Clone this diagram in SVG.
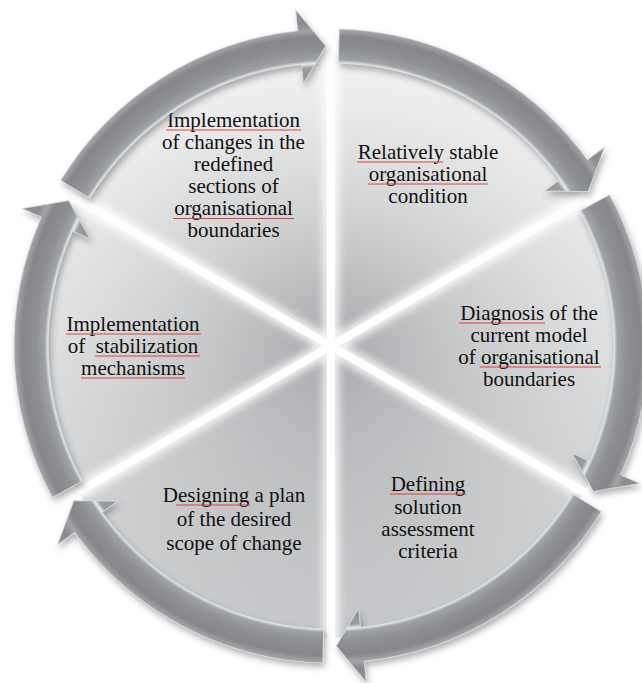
<svg xmlns="http://www.w3.org/2000/svg" width="642" height="683" viewBox="0 0 642 683">
<defs>
<style>
.lbl{font-family:"Liberation Serif","Times New Roman",serif;font-size:21px;fill:#111111;text-anchor:middle}
.seg{fill:url(#segFill)}
.shade{fill:url(#centerShade)}
.arrow{fill:url(#ringGrad);stroke:#d8e0e6;stroke-width:0.9;stroke-opacity:0.8}
.gap{stroke:#ffffff;stroke-width:8}
.glow{stroke:#ffffff;stroke-width:16}
.spell{stroke:#d9463f;stroke-width:1;fill:none}
</style>
<linearGradient id="segFill" gradientUnits="userSpaceOnUse" x1="0" y1="50" x2="0" y2="645">
<stop offset="0" stop-color="#f1f1f1"/>
<stop offset="0.45" stop-color="#dadbdc"/>
<stop offset="1" stop-color="#b6b8bb"/>
</linearGradient>
<radialGradient id="centerShade" gradientUnits="userSpaceOnUse" cx="331" cy="346" r="292">
<stop offset="0" stop-color="#8a8c90" stop-opacity="0.65"/>
<stop offset="0.5" stop-color="#a4a6a9" stop-opacity="0.25"/>
<stop offset="1" stop-color="#ffffff" stop-opacity="0.2"/>
</radialGradient>
<radialGradient id="ringGrad" gradientUnits="userSpaceOnUse" cx="331" cy="346" r="340">
<stop offset="0" stop-color="#8f9194"/>
<stop offset="0.776" stop-color="#8f9194"/>
<stop offset="0.82" stop-color="#9a9c9f"/>
<stop offset="0.832" stop-color="#e6ebef"/>
<stop offset="0.842" stop-color="#a0a2a5"/>
<stop offset="0.87" stop-color="#8e9093"/>
<stop offset="0.91" stop-color="#85878a"/>
<stop offset="0.93" stop-color="#a2a4a7"/>
<stop offset="0.95" stop-color="#8a8c8f"/>
<stop offset="1" stop-color="#8e9093"/>
</radialGradient>
<filter id="shadow" x="-10%" y="-10%" width="120%" height="120%">
<feDropShadow dx="2" dy="4" stdDeviation="3" flood-color="#555555" flood-opacity="0.45"/>
</filter>
<filter id="blur" x="-20%" y="-20%" width="140%" height="140%">
<feGaussianBlur stdDeviation="4"/>
</filter>
<path id="arrowShape" d="M609.6,194.7 A317,317 0 0 1 620.6,474.9 L639.8,483.5 L593.4,491.4 L572.2,453.4 L589.5,461.1 A283,283 0 0 0 579.7,211.0 Z"/>
</defs>
<rect width="642" height="683" fill="#ffffff"/>

<g id="node-top-left">
<path class="seg" d="M331,346 L78.1,200 A292,292 0 0 1 331,54 Z"/>
<path class="shade" d="M331,346 L78.1,200 A292,292 0 0 1 331,54 Z"/>
<text class="lbl"><tspan x="233.5" y="127">Implementation</tspan><tspan x="233.5" y="149">of changes in the</tspan><tspan x="233.5" y="171">redefined</tspan><tspan x="233.5" y="193">sections of</tspan><tspan x="233.5" y="215">organisational</tspan><tspan x="233.5" y="237">boundaries</tspan></text>
</g>
<g id="node-top-right">
<path class="seg" d="M331,346 L331,54 A292,292 0 0 1 583.9,200 Z"/>
<path class="shade" d="M331,346 L331,54 A292,292 0 0 1 583.9,200 Z"/>
<text class="lbl"><tspan x="428" y="159">Relatively stable</tspan><tspan x="428" y="181">organisational</tspan><tspan x="428" y="203">condition</tspan></text>
</g>
<g id="node-right">
<path class="seg" d="M331,346 L583.9,200 A292,292 0 0 1 583.9,492 Z"/>
<path class="shade" d="M331,346 L583.9,200 A292,292 0 0 1 583.9,492 Z"/>
<text class="lbl"><tspan x="529" y="320">Diagnosis of the</tspan><tspan x="529" y="342">current model</tspan><tspan x="529" y="364">of organisational</tspan><tspan x="529" y="386">boundaries</tspan></text>
</g>
<g id="node-bottom-right">
<path class="seg" d="M331,346 L583.9,492 A292,292 0 0 1 331,638 Z"/>
<path class="shade" d="M331,346 L583.9,492 A292,292 0 0 1 331,638 Z"/>
<text class="lbl"><tspan x="428" y="491">Defining</tspan><tspan x="428" y="514">solution</tspan><tspan x="428" y="536">assessment</tspan><tspan x="428" y="558">criteria</tspan></text>
</g>
<g id="node-bottom-left">
<path class="seg" d="M331,346 L331,638 A292,292 0 0 1 78.1,492 Z"/>
<path class="shade" d="M331,346 L331,638 A292,292 0 0 1 78.1,492 Z"/>
<text class="lbl"><tspan x="234" y="502">Designing a plan</tspan><tspan x="234" y="526">of the desired</tspan><tspan x="234" y="550">scope of change</tspan></text>
</g>
<g id="node-left">
<path class="seg" d="M331,346 L78.1,492 A292,292 0 0 1 78.1,200 Z"/>
<path class="shade" d="M331,346 L78.1,492 A292,292 0 0 1 78.1,200 Z"/>
<text class="lbl" style="white-space:pre"><tspan x="133" y="331">Implementation</tspan><tspan x="133" y="353">of  stabilization</tspan><tspan x="133" y="375">mechanisms</tspan></text>
</g>

<g id="spellcheck" class="spell">
<path d="M166,130 H301 M173,218.5 H294 M357,162 H443 M368,184 H488 M459,323 H545 M480,367 H601 M66,334 H201 M95,356 H200 M81,378 H185 M176,505 H250 M390,494 H466"/>
</g>

<g id="gaps">
<g filter="url(#blur)" opacity="0.85">
<path class="glow" d="M331,346 L331,46 M331,346 L590.8,196 M331,346 L590.8,496 M331,346 L331,646 M331,346 L71.2,496 M331,346 L71.2,196"/>
<circle cx="331" cy="346" r="11" fill="#ffffff"/>
</g>
<path class="gap" d="M331,346 L331,46 M331,346 L590.8,196 M331,346 L590.8,496 M331,346 L331,646 M331,346 L71.2,496 M331,346 L71.2,196"/>
</g>

<g id="connectors" filter="url(#shadow)">
<use href="#arrowShape" class="arrow" transform="rotate(-120 331 346)"/>
<use href="#arrowShape" class="arrow" transform="rotate(-60 331 346)"/>
<use href="#arrowShape" class="arrow"/>
<use href="#arrowShape" class="arrow" transform="rotate(60 331 346)"/>
<use href="#arrowShape" class="arrow" transform="rotate(120 331 346)"/>
<use href="#arrowShape" class="arrow" transform="rotate(180 331 346)"/>
</g>
</svg>
